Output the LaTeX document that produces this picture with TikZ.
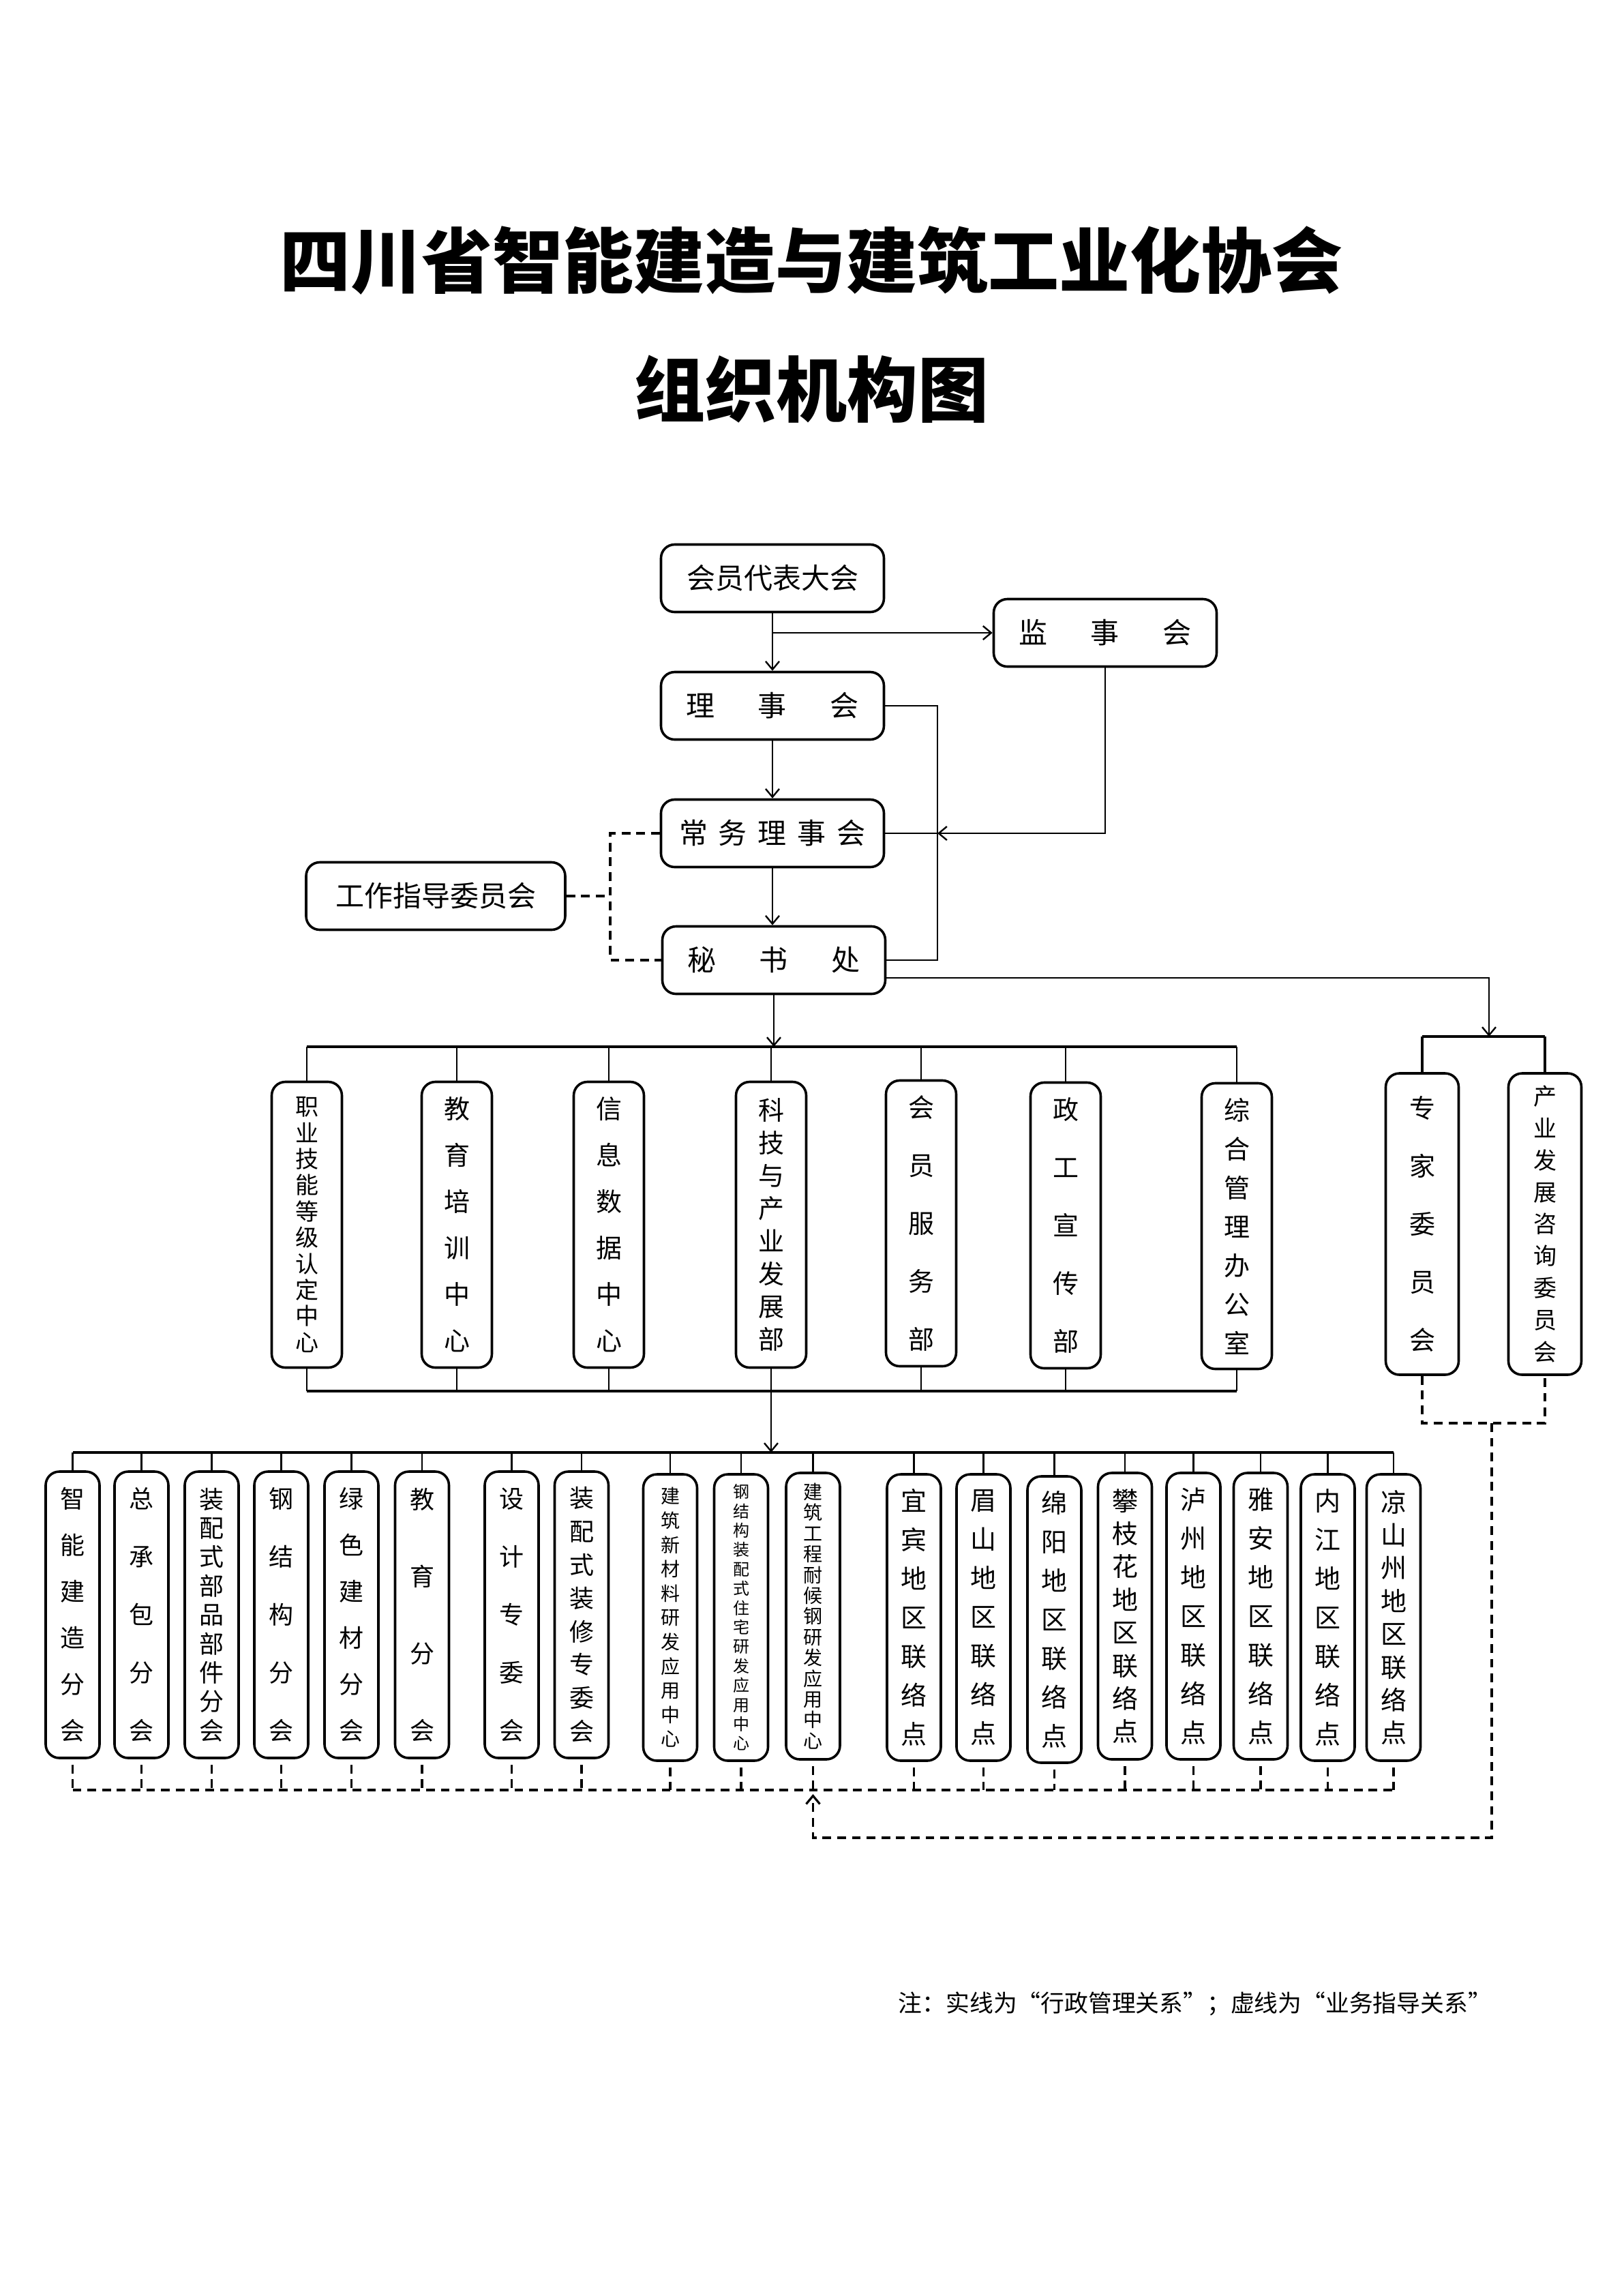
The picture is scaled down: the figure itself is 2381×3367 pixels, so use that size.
\documentclass[tikz,border=0pt]{standalone}
\usepackage{fontspec}
\usetikzlibrary{arrows.meta}
\newfontfamily\cjk{Noto Sans CJK SC}
\newcommand\vf[2]{\cjk\fontsize{#1}{#2}\selectfont}
\begin{document}
\begin{tikzpicture}[x=0.25pt,y=-0.25pt,
  box/.style={draw, line width=0.9pt, rounded corners=5pt, inner sep=0pt, align=center},
  tbox/.style={box, minimum width=81.75pt, minimum height=24.75pt, font={\vf{10.5pt}{12pt}}},
  vbox/.style={box, minimum width=25.75pt, minimum height=104.75pt},
  ebox/.style={box, minimum width=26.75pt, minimum height=110.5pt},
  lbox/.style={box, minimum width=19.75pt, minimum height=105pt},
  con/.style={line width=0.6pt},
  barl/.style={line width=1.1pt},
  arr/.style={-{Straight Barb[length=3pt,width=5pt]}},
  dsh/.style={line width=0.8pt, dash pattern=on 3.2pt off 2.2pt}]
\fill[white] (0,0) rectangle (2381,3367);
\useasboundingbox (0,0) rectangle (2381,3367);

% titles
\node[font={\cjk\bfseries\fontsize{26pt}{30pt}\selectfont}] (t1) at (1190,382) {四川省智能建造与建筑工业化协会};
\node[font={\cjk\bfseries\fontsize{26pt}{30pt}\selectfont}] (t2) at (1190,571) {组织机构图};

% top boxes
\node[tbox] (hy) at (1133,848) {会员代表大会};
\node[tbox] (js) at (1621,928) {监\hspace{16pt}事\hspace{16pt}会};
\node[tbox] (ls) at (1133,1035) {理\hspace{16pt}事\hspace{16pt}会};
\node[tbox] (cw) at (1133,1222) {常\hspace{4pt}务\hspace{4pt}理\hspace{4pt}事\hspace{4pt}会};
\node[tbox, minimum width=95pt] (gz) at (639,1314) {工作指导委员会};
\node[tbox] (ms) at (1135,1408) {秘\hspace{16pt}书\hspace{16pt}处};

\coordinate (vr) at (1375,1222);
\coordinate (dl) at (895,1314);
\draw[con,arr] (hy.south) -- (ls.north);
\draw[con,arr] (hy.south |- js.west) -- (js.west);
\draw[con,arr] (ls.south) -- (cw.north);
\draw[con,arr] (cw.south) -- (cw.south |- ms.north);
\draw[con] (ls.east) -| (vr) |- (ms.east);
\draw[con,arr] (js.south) |- (vr);
\draw[con] (vr) -- (cw.east);
\draw[dsh] (cw.west) -| (dl) |- (ms.west);
\draw[dsh] (gz.east) -- (dl);

% departments
\node[vbox, font={\vf{8.5pt}{9.6pt}}] (d1) at (450,1796) {职\\业\\技\\能\\等\\级\\认\\定\\中\\心};
\node[vbox, font={\vf{9.5pt}{17pt}}] (d2) at (670,1796) {教\\育\\培\\训\\中\\心};
\node[vbox, font={\vf{9.5pt}{17pt}}] (d3) at (893,1796) {信\\息\\数\\据\\中\\心};
\node[vbox, font={\vf{9.5pt}{12pt}}] (d4) at (1131,1796) {科\\技\\与\\产\\业\\发\\展\\部};
\node[vbox, font={\vf{9.5pt}{21.25pt}}] (d5) at (1351,1794) {会\\员\\服\\务\\部};
\node[vbox, font={\vf{9.5pt}{21.25pt}}] (d6) at (1563,1797) {政\\工\\宣\\传\\部};
\node[vbox, font={\vf{9.5pt}{14.25pt}}] (d7) at (1814,1798) {综\\合\\管\\理\\办\\公\\室};

\coordinate (bar1) at (1131,1535);
\draw[con,arr] (ms.south) -- (ms.south |- bar1);
\draw[barl] (d1.north |- bar1) -- (d7.north |- bar1);
\foreach \n in {d1,d2,d3,d4,d5,d6,d7} \draw[con] (\n.north) -- (\n.north |- bar1);

% expert committees
\node[ebox, font={\vf{9.5pt}{21.25pt}}] (e1) at (2086,1795) {专\\家\\委\\员\\会};
\node[ebox, font={\vf{8.5pt}{11.7pt}}] (e2) at (2266,1795) {产\\业\\发\\展\\咨\\询\\委\\员\\会};
\coordinate (bar2) at (2184,1520);
\draw[con,arr] ([yshift=-6.5pt]ms.east) -| (bar2);
\draw[barl] (e1.north |- bar2) -- (e2.north |- bar2);
\draw[barl] (e1.north) -- (e1.north |- bar2);
\draw[barl] (e2.north) -- (e2.north |- bar2);

% bottom of departments
\coordinate (bar3) at (1131,2040);
\coordinate (bar4) at (1131,2130);
\foreach \n in {d1,d2,d3,d4,d5,d6,d7} \draw[con] (\n.south) -- (\n.south |- bar3);
\draw[barl] (d1.south |- bar3) -- (d7.south |- bar3);
\draw[con,arr] (d4.south |- bar3) -- (bar4);

% lower boxes
\node[lbox, font={\vf{9pt}{17pt}}] (l1) at (106.5,2368) {智\\能\\建\\造\\分\\会};
\node[lbox, font={\vf{9pt}{21.25pt}}] (l2) at (207.5,2368) {总\\承\\包\\分\\会};
\node[lbox, font={\vf{9pt}{10.6pt}}] (l3) at (310.5,2368) {装\\配\\式\\部\\品\\部\\件\\分\\会};
\node[lbox, font={\vf{9pt}{21.25pt}}] (l4) at (412.5,2368) {钢\\结\\构\\分\\会};
\node[lbox, font={\vf{9pt}{17pt}}] (l5) at (515.5,2368) {绿\\色\\建\\材\\分\\会};
\node[lbox, font={\vf{9pt}{28.25pt}}] (l6) at (619,2368) {教\\育\\分\\会};
\node[lbox, font={\vf{9pt}{21.25pt}}] (l7) at (750.5,2368) {设\\计\\专\\委\\会};
\node[lbox, font={\vf{9pt}{12.2pt}}] (l8) at (853,2368) {装\\配\\式\\装\\修\\专\\委\\会};
\node[lbox, font={\vf{7pt}{8.9pt}}] (l9) at (983,2372) {建\\筑\\新\\材\\料\\研\\发\\应\\用\\中\\心};
\node[lbox, font={\vf{6pt}{7.1pt}}] (l10) at (1087,2372) {钢\\结\\构\\装\\配\\式\\住\\宅\\研\\发\\应\\用\\中\\心};
\node[lbox, font={\vf{7pt}{7.6pt}}] (l11) at (1192.5,2370) {建\\筑\\工\\程\\耐\\候\\钢\\研\\发\\应\\用\\中\\心};
\node[lbox, font={\vf{9.5pt}{14.25pt}}] (l12) at (1340.5,2372) {宜\\宾\\地\\区\\联\\络\\点};
\node[lbox, font={\vf{9.5pt}{14.25pt}}] (l13) at (1442.5,2372) {眉\\山\\地\\区\\联\\络\\点};
\node[lbox, font={\vf{9.5pt}{14.25pt}}] (l14) at (1546.5,2375) {绵\\阳\\地\\区\\联\\络\\点};
\node[lbox, font={\vf{9.5pt}{12.1pt}}] (l15) at (1650,2370) {攀\\枝\\花\\地\\区\\联\\络\\点};
\node[lbox, font={\vf{9.5pt}{14.25pt}}] (l16) at (1750.5,2370) {泸\\州\\地\\区\\联\\络\\点};
\node[lbox, font={\vf{9.5pt}{14.25pt}}] (l17) at (1849,2370) {雅\\安\\地\\区\\联\\络\\点};
\node[lbox, font={\vf{9.5pt}{14.25pt}}] (l18) at (1947.5,2372) {内\\江\\地\\区\\联\\络\\点};
\node[lbox, font={\vf{9.5pt}{12.1pt}}] (l19) at (2044,2372) {凉\\山\\州\\地\\区\\联\\络\\点};

\draw[barl] (l1.north |- bar4) -- (l19.north |- bar4);
\foreach \n in {l1,l2,l3,l4,l5,l6,l7,l8,l9,l10,l11,l12,l13,l14,l15,l16,l17,l18,l19}
  \draw[con] (\n.north) -- (\n.north |- bar4);

% dashed guidance lines
\coordinate (bar5) at (1192.5,2625);
\foreach \n in {l1,l2,l3,l4,l5,l6,l7,l8,l9,l10,l11,l12,l13,l14,l15,l16,l17,l18,l19}
  \draw[dsh] ([yshift=-2pt]\n.south) -- (\n.south |- bar5);
\draw[dsh] (l1.south |- bar5) -- (l19.south |- bar5);
\coordinate (bar6) at (2188,2087);
\coordinate (r2) at (2188,2695);
\draw[dsh] (e1.south) -- (e1.south |- bar6) -- (e2.south |- bar6) -- (e2.south);
\draw[dsh,arr] (bar6) -- (r2) -| ([yshift=-1.5pt]l11.south |- bar5);

% note
\node[anchor=west, inner sep=0pt, font={\vf{8.7pt}{10pt}}] (note) at (1317,2939) {注：实线为“行政管理关系”；虚线为“业务指导关系”};
\end{tikzpicture}
\end{document}
